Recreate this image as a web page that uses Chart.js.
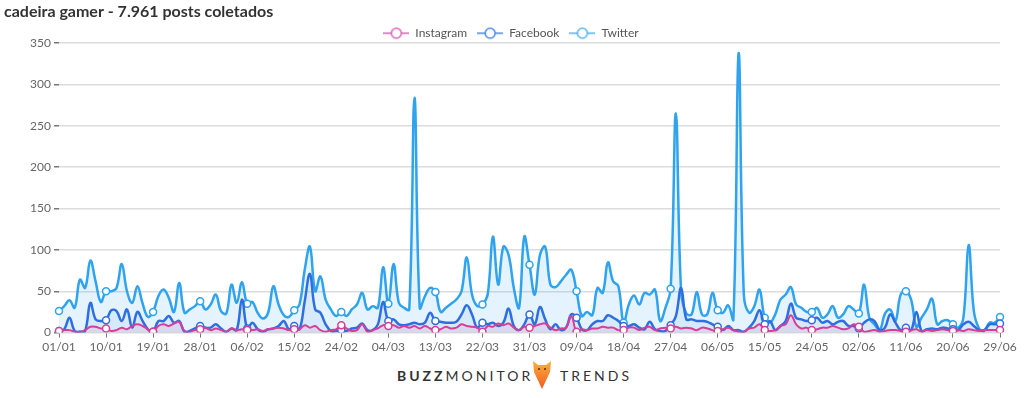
<!DOCTYPE html>
<html>
<head>
<meta charset="utf-8">
<script src="https://cdn.jsdelivr.net/npm/chart.js"></script>
<style>
  html, body { margin: 0; padding: 0; background: #fff; }
  #wrap { position: relative; width: 1024px; height: 356px; }
  #logo { position: absolute; left: 0; top: 360px; width: 1024px; height: 34px; font-family: Lato, sans-serif; color: #333; }
  #logo span { position: absolute; top: 7px; font-size: 14px; line-height: 18px; letter-spacing: 3px; }
  #logo svg { position: absolute; left: 533px; top: 1px; }
</style>
</head>
<body>
<div id="wrap"><canvas id="chart" width="1024" height="356"></canvas></div>
<div id="logo">
  <span style="left:397px"><b>BUZZ</b>MONITOR</span>
  <svg width="18" height="28" viewBox="0 0 18 28">
    <defs>
      <linearGradient id="fx" x1="0" y1="0" x2="0" y2="1">
        <stop offset="0" stop-color="#fbb03b"/>
        <stop offset="1" stop-color="#f15a24"/>
      </linearGradient>
    </defs>
    <polygon points="0,0 5,4 13,4 18,0 17,11 9,28 1,11" fill="url(#fx)"/>
    <circle cx="6" cy="8" r="1" fill="#5a2a0a"/>
    <circle cx="12" cy="8" r="1" fill="#5a2a0a"/>
  </svg>
  <span style="left:560px">TRENDS</span>
</div>
<script>
    // Veri: 01/01 - 29/06 (gunluk)
    const seriesNames = ['Instagram', 'Facebook', 'Twitter'];

    const instagram = [
        2, 3, 3, 1, 1, 3, 7, 7, 5, 5,
        2, 3, 6, 4, 8, 10, 8, 4, 1, 8,
        10, 8, 11, 13, 2, 1, 3, 4, 6, 3,
        5, 3, 1, 5, 3, 4, 3, 3, 4, 2,
        4, 5, 6, 5, 3, 4, 4, 9, 6, 8,
        3, 1, 3, 4, 9, 5, 2, 3, 10, 1,
        3, 5, 9, 8, 9, 6, 8, 6, 8, 5,
        8, 5, 3, 4, 7, 5, 6, 10, 8, 7,
        6, 1, 8, 7, 11, 9, 11, 6, 3, 7,
        6, 8, 10, 11, 6, 3, 5, 6, 20, 1,
        4, 3, 5, 5, 7, 6, 6, 3, 3, 6,
        6, 3, 6, 7, 3, 5, 6, 5, 7, 5,
        6, 5, 3, 6, 5, 3, 2, 4, 6, 3,
        1, 1, 5, 6, 10, 3, 2, 3, 8, 10,
        21, 10, 5, 6, 3, 4, 6, 6, 8, 6,
        4, 5, 10, 7, 1, 2, 3, 1, 2, 3,
        3, 2, 1, 3, 4, 1, 3, 2, 3, 4,
        3, 2, 3, 2, 4, 3, 2, 3, 3, 3, 3
    ];

    const facebook = [
        2, 4, 18, 2, 1, 2, 36, 16, 14, 15,
        27, 26, 14, 28, 6, 25, 14, 4, 1, 14,
        14, 20, 12, 14, 1, 2, 5, 8, 6, 6,
        10, 5, 1, 5, 3, 40, 5, 12, 4, 1,
        4, 5, 8, 14, 4, 8, 4, 38, 71, 28,
        24, 10, 2, 2, 3, 2, 5, 6, 11, 3,
        3, 10, 37, 14, 16, 10, 9, 10, 12, 10,
        12, 24, 14, 13, 12, 12, 13, 22, 33, 22,
        6, 12, 10, 12, 8, 12, 29, 8, 3, 10,
        22, 10, 31, 16, 4, 10, 3, 6, 22, 18,
        4, 3, 10, 14, 14, 21, 18, 14, 8, 8,
        10, 6, 4, 13, 4, 2, 2, 9, 20, 54,
        16, 16, 14, 14, 13, 10, 7, 3, 8, 3,
        3, 1, 6, 14, 27, 10, 14, 3, 8, 14,
        35, 18, 16, 14, 15, 18, 12, 14, 10, 13,
        14, 8, 8, 5, 12, 16, 14, 3, 6, 22,
        12, 3, 6, 3, 25, 2, 4, 5, 4, 6,
        5, 4, 3, 10, 13, 8, 3, 3, 10, 10, 11
    ];

    const twitter = [
        26, 32, 39, 30, 64, 54, 87, 62, 37, 50,
        50, 54, 83, 50, 36, 56, 35, 19, 25, 44,
        52, 42, 25, 60, 24, 28, 32, 38, 28, 34,
        46, 26, 23, 58, 36, 61, 35, 37, 24, 17,
        24, 56, 34, 21, 19, 27, 34, 76, 104, 50,
        68, 40, 28, 20, 25, 20, 28, 34, 48, 28,
        32, 30, 79, 35, 83, 36, 30, 28, 284, 30,
        44, 54, 49, 25, 30, 35, 40, 50, 91, 46,
        32, 34, 46, 116, 58, 104, 94, 54, 30, 116,
        82, 46, 94, 104, 58, 55, 62, 70, 76, 50,
        20, 25, 21, 54, 48, 85, 62, 56, 12, 34,
        45, 34, 48, 46, 52, 14, 30, 53, 265, 50,
        23, 22, 49, 22, 22, 48, 27, 24, 33, 16,
        338, 46, 24, 32, 52, 18, 12, 22, 40, 46,
        55, 34, 30, 25, 25, 30, 18, 22, 32, 18,
        22, 32, 28, 23, 58, 18, 10, 3, 23, 28,
        14, 46, 50, 40, 7, 18, 28, 41, 10, 14,
        15, 10, 6, 18, 106, 26, 5, 2, 12, 12, 19
    ];

    const yTicks = [0, 50, 100, 150, 200, 250, 300, 350];

    // Gun etiketleri (dd/mm)
    const days = [];
    for (let i = 0; i < twitter.length; i++) {
        const d = new Date(2020, 0, 1 + i);
        days.push(String(d.getDate()).padStart(2, '0') + '/' + String(d.getMonth() + 1).padStart(2, '0'));
    }

    const lineColors = ['#d93d98', '#2d6fe3', '#2fa3ee'];
    const fillColors = ['rgba(217,61,152,0.10)', 'rgba(45,111,227,0.07)', 'rgba(47,163,238,0.13)'];
    const legendColors = ['#e062b4', '#4a88ef', '#55b3f2'];

    // legend ikonu: cizgi + bos daire
    function legendIcon(color) {
        const c = document.createElement('canvas');
        c.width = 26;
        c.height = 14;
        const g = c.getContext('2d');
        g.strokeStyle = color;
        g.lineWidth = 1.5;
        g.beginPath();
        g.moveTo(0, 7);
        g.lineTo(26, 7);
        g.stroke();
        g.beginPath();
        g.arc(13, 7, 5, 0, Math.PI * 2);
        g.fillStyle = '#fff';
        g.fill();
        g.stroke();
        return c;
    }
    const icons = legendColors.map(legendIcon);

    // legend yuksekligini biraz daralt, legend'i sayfa ortasina al
    const tightHeader = {
        id: 'tightHeader',
        afterInit(chart) {
            const l = chart.legend;
            const lFit = l.fit;
            l.fit = function() { lFit.call(this); this.height -= 6; };
        },
        afterLayout(chart) {
            chart.legend.left += 9;
            chart.legend.right += 9;
        }
    };

    const markerRadius = ctx => (ctx.dataIndex % 9 === 0 ? 3.5 : 0);

    const datasets = [instagram, facebook, twitter].map((vals, i) => ({
        label: seriesNames[i],
        data: vals,
        borderColor: lineColors[i],
        backgroundColor: fillColors[i],
        borderWidth: i === 0 ? 2 : 2.5,
        fill: 'origin',
        tension: 0.4,
        pointRadius: markerRadius,
        pointBackgroundColor: '#fff',
        pointBorderColor: lineColors[i],
        pointBorderWidth: 1.5
    }));

    new Chart(document.getElementById('chart'), {
        type: 'line',
        data: { labels: days, datasets: datasets },
        plugins: [tightHeader],
        options: {
            responsive: false,
            animation: false,
            events: [],
            layout: { padding: { left: 4, right: 24, top: 0, bottom: 0 } },
            plugins: {
                title: {
                    display: true,
                    text: 'cadeira gamer - 7.961 posts coletados',
                    align: 'start',
                    color: '#333',
                    font: { family: 'Lato', size: 16, weight: 'bold' },
                    padding: { top: 2, bottom: -4 }
                },
                legend: {
                    position: 'top',
                    labels: {
                        usePointStyle: true,
                        pointStyleWidth: 26,
                        color: '#555',
                        font: { family: 'Lato', size: 12 },
                        padding: 10,
                        generateLabels(chart) {
                            const items = Chart.defaults.plugins.legend.labels.generateLabels(chart);
                            items.forEach((it, i) => { it.pointStyle = icons[i]; });
                            return items;
                        }
                    }
                },
                tooltip: { enabled: false }
            },
            scales: {
                x: {
                    border: { display: false },
                    grid: {
                        drawOnChartArea: false,
                        tickLength: 5,
                        tickColor: ctx => (ctx.index % 9 === 0 ? '#777' : 'rgba(0,0,0,0)')
                    },
                    ticks: {
                        autoSkip: false,
                        maxRotation: 0,
                        color: '#666',
                        padding: 2,
                        font: { family: 'Lato', size: 12 },
                        callback(v, i) { return i % 9 === 0 ? this.getLabelForValue(v) : ''; }
                    }
                },
                y: {
                    min: yTicks[0],
                    max: yTicks[yTicks.length - 1],
                    border: { display: false },
                    afterFit(s) { s.width = 55; },
                    grid: { color: '#dcdcdc', lineWidth: 1.5, tickColor: '#777', tickLength: 5 },
                    ticks: {
                        stepSize: 50,
                        color: '#666',
                        padding: 3,
                        font: { family: 'Lato', size: 12 }
                    }
                }
            }
        }
    });
</script>
</body>
</html>
